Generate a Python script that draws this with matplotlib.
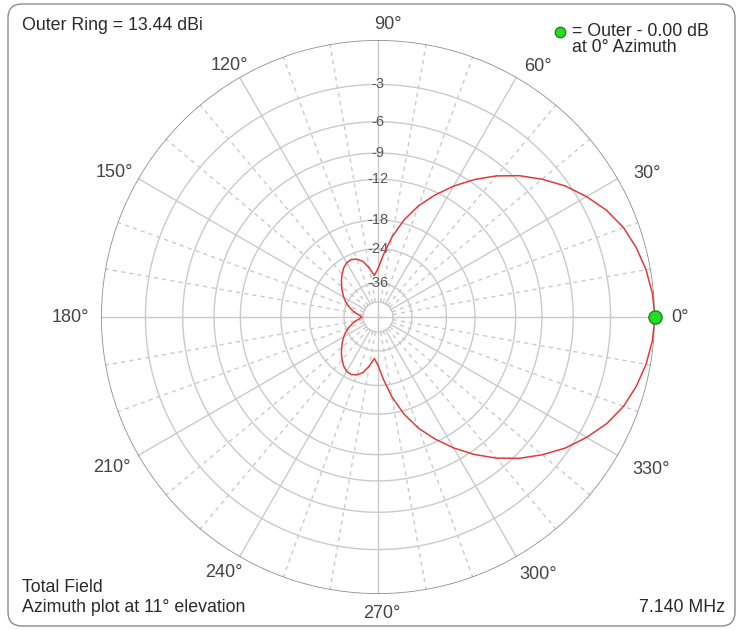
import numpy as np
import matplotlib
matplotlib.use('Agg')
import matplotlib.pyplot as plt
from matplotlib.patches import FancyBboxPatch

plt.rcParams['font.family'] = ['Liberation Sans', 'DejaVu Sans']

# azimuth pattern (one side, symmetric about 0 deg), dB relative to outer ring
az_deg = [0, 5, 10, 15, 20, 25, 30, 35, 40, 45, 50, 55, 60, 65, 70, 75, 80, 85,
          90, 95, 100, 105, 110, 115, 120, 125, 130, 135, 140, 145, 150, 155,
          160, 165, 170, 175, 180]
gain_db = [0.0, -0.1, -0.3, -0.6, -1.0, -1.6, -2.4, -3.3, -4.4, -5.6, -7.0,
           -8.6, -10.4, -12.4, -14.6, -17.4, -21.0, -25.5, -30.0, -32.5,
           -29.5, -27.0, -25.8, -25.3, -25.5, -26.3, -27.5, -28.8, -30.3,
           -31.8, -33.4, -35.2, -37.5, -40.0, -43.0, -46.5, -49.0]

ring_db = [-3, -6, -9, -12, -18, -24, -36]
ring_labels = ['-3', '-6', '-9', '-12', '-18', '-24', '-36']
inner_db = -50
angle_ticks = list(range(0, 360, 30))
angle_labels = [f'{a}\u00b0' for a in angle_ticks]

outer_ring = 'Outer Ring = 13.44 dBi'
marker_text = ['= Outer - 0.00 dB', 'at 0\u00b0 Azimuth']
field_text = ['Total Field', 'Azimuth plot at 11\u00b0 elevation']
freq_text = '7.140 MHz'

# small pixel nudges for the angle labels (right, down)
label_nudge = [(-5, 0), (4, 9), (9, 11), (10, 4), (2, 10), (1, 8),
               (0, 0), (-1, -2), (-3, -6), (4, 0), (9, -4), (8, 0)]


def arrl(db):
    # ARRL log scale: 0.89 per 2 dB
    return 0.89 ** (-np.asarray(db, dtype=float) / 2.0)


fig = plt.figure(figsize=(7.4, 6.3), dpi=100)

bg = fig.add_axes([0, 0, 1, 1])
bg.set_xlim(0, 740)
bg.set_ylim(630, 0)
bg.axis('off')
bg.add_patch(FancyBboxPatch((8, 4), 727, 622, boxstyle='round,pad=0,rounding_size=14',
                            fc='white', ec='#8c8c8c', lw=1.0))

ax = fig.add_axes([0.1365, 0.0571, 0.7486, 0.8794], projection='polar')
ax.set_ylim(0, 1)
ax.grid(False)
ax.set_xticks([])
ax.set_yticks([])
ax.spines['polar'].set_visible(False)
ax.patch.set_alpha(0)

grid_c = '#cacaca'
full = np.linspace(0, 2 * np.pi, 721)
r_in = arrl(inner_db)

for db in ring_db + [inner_db]:
    ax.plot(full, np.full_like(full, arrl(db)), color=grid_c, lw=1.0, zorder=1)
ax.plot(full, np.ones_like(full), color='#8e8e8e', lw=1.2, zorder=2)

for a in range(0, 360, 10):
    t = np.deg2rad(a)
    if a % 90 == 0:
        ax.plot([t, t], [0, 1], color=grid_c, lw=1.0, zorder=1)
    elif a % 30 == 0:
        ax.plot([t, t], [r_in, 1], color=grid_c, lw=1.0, zorder=1)
    else:
        ax.plot([t, t], [r_in, 1], color=grid_c, lw=1.0, ls=(0, (3, 3)), zorder=1)

for db, lab in zip(ring_db, ring_labels):
    ax.text(np.pi / 2, arrl(db), lab, ha='center', va='center', fontsize=10.5,
            color='#555555', zorder=3)

for a, lab, (nx, ny) in zip(angle_ticks, angle_labels, label_nudge):
    t = np.deg2rad(a)
    r = 1.07 + 0.04 * abs(np.cos(t))
    ax.annotate(lab, (t, r), xytext=(nx, -ny), textcoords='offset pixels',
                ha='center', va='center', fontsize=13, color='#444444',
                annotation_clip=False)

az = np.array(az_deg, dtype=float)
g = np.array(gain_db, dtype=float)
theta = np.deg2rad(np.concatenate([az, 360 - az[::-1][1:]]))
rr = arrl(np.concatenate([g, g[::-1][1:]]))
ax.plot(theta, rr, color='#e23a3a', lw=1.1, zorder=4)
ax.plot([0], [arrl(gain_db[0])], 'o', ms=9.5, mfc='#22dd22', mec='#178a17', mew=1.0,
        zorder=5, clip_on=False)

txt_c = '#2a2a2a'
bg.text(22, 25, outer_ring, fontsize=12.8, va='center', color=txt_c)
bg.plot([560], [32], 'o', ms=7.5, mfc='#22dd22', mec='#178a17', mew=1.0)
bg.text(572, 31, marker_text[0], fontsize=12.8, va='center', color=txt_c)
bg.text(572, 48, marker_text[1], fontsize=12.8, va='center', color=txt_c)
bg.text(22, 588, field_text[0], fontsize=12.8, va='center', color=txt_c)
bg.text(22, 608, field_text[1], fontsize=12.8, va='center', color=txt_c)
bg.text(725, 608, freq_text, fontsize=12.8, va='center', ha='right', color=txt_c)

fig.savefig('out.png', dpi=100)
